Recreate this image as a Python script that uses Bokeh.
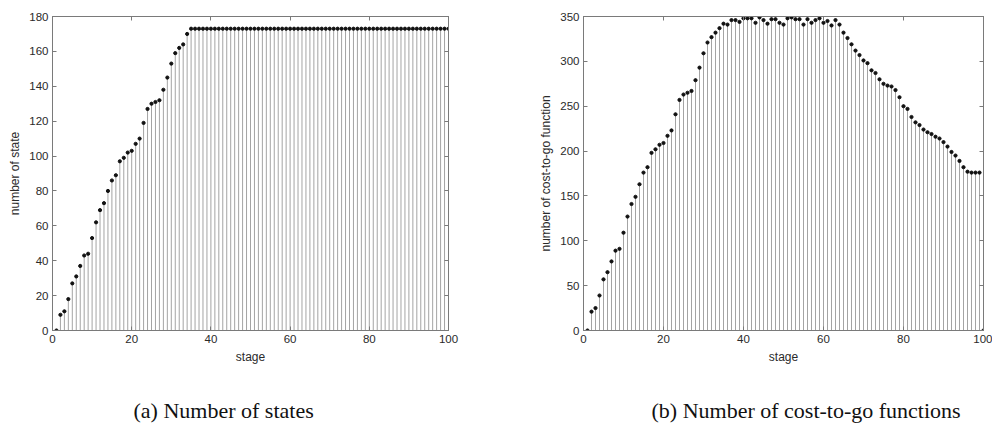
from bokeh.plotting import figure
from bokeh.models import LinearAxis, FixedTicker, Range1d, Title
from bokeh.layouts import row
from bokeh.embed import file_html
from bokeh.resources import INLINE

# stage index 1..100
stages = list(range(1, 101))

# number of states reached at each stage
states = [
    0, 9, 11, 18, 27, 31, 37, 43, 44, 53,
    62, 69, 73, 80, 86, 89, 97, 99, 102, 103,
    107, 110, 119, 127, 130, 131, 132, 138, 145, 153,
    159, 162, 164, 170, 173, 173, 173, 173, 173, 173,
    173, 173, 173, 173, 173, 173, 173, 173, 173, 173,
    173, 173, 173, 173, 173, 173, 173, 173, 173, 173,
    173, 173, 173, 173, 173, 173, 173, 173, 173, 173,
    173, 173, 173, 173, 173, 173, 173, 173, 173, 173,
    173, 173, 173, 173, 173, 173, 173, 173, 173, 173,
    173, 173, 173, 173, 173, 173, 173, 173, 173, 173,
]

# number of cost-to-go functions stored at each stage
cost_to_go = [
    0, 21, 25, 39, 57, 65, 77, 89, 91, 109,
    127, 141, 149, 163, 176, 182, 198, 202, 207, 209,
    217, 223, 241, 257, 263, 265, 267, 279, 293, 309,
    321, 327, 332, 337, 342, 341, 346, 346, 344, 348,
    348, 348, 343, 349, 346, 342, 347, 347, 343, 341,
    348, 349, 347, 347, 341, 347, 343, 346, 348, 343,
    345, 340, 346, 341, 332, 326, 319, 312, 307, 301,
    298, 290, 287, 280, 275, 273, 272, 268, 260, 250,
    247, 238, 232, 229, 224, 221, 219, 216, 214, 210,
    205, 199, 195, 189, 182, 177, 176, 176, 176, 0,
]

x_ticks = [0, 20, 40, 60, 80, 100]
states_ticks = [0, 20, 40, 60, 80, 100, 120, 140, 160, 180]
cost_ticks = [0, 50, 100, 150, 200, 250, 300, 350]

AXIS_COLOR = "#7a7a7a"
TEXT_COLOR = "#2a2a2a"
SANS = "Liberation Sans"


def style_axis(ax, ticks, show_labels):
    ax.ticker = FixedTicker(ticks=ticks)
    ax.axis_line_color = AXIS_COLOR
    ax.major_tick_line_color = AXIS_COLOR
    ax.major_tick_in = 4
    ax.major_tick_out = 0
    ax.minor_tick_line_color = None
    ax.major_label_text_font = SANS
    if show_labels:
        ax.major_label_text_color = TEXT_COLOR
        ax.major_label_text_font_size = "11.5px"
        ax.major_label_standoff = 4
        ax.axis_label_text_font = SANS
        ax.axis_label_text_font_size = "12px"
        ax.axis_label_text_font_style = "normal"
        ax.axis_label_text_color = TEXT_COLOR
        ax.axis_label_standoff = 4
    else:
        # tick marks only on the opposite sides of the box
        ax.major_label_text_color = None
        ax.major_label_text_font_size = "1px"
        ax.major_label_standoff = 0


def spacer_axis(gap):
    # an undrawn axis that only reserves vertical room above the caption
    ax = LinearAxis(ticker=FixedTicker(ticks=[50]))
    ax.axis_line_color = None
    ax.major_tick_line_color = None
    ax.minor_tick_line_color = None
    ax.major_tick_in = 0
    ax.major_tick_out = gap
    ax.major_label_text_color = None
    ax.major_label_text_font_size = "1px"
    ax.major_label_standoff = 0
    return ax


def stem_panel(values, ymax, yticks, ylabel, caption, width,
               border_left, border_right, cap_offset):
    p = figure(
        width=width, height=423,
        x_range=Range1d(0, 100), y_range=Range1d(0, ymax),
        output_backend="svg", toolbar_location=None,
        min_border_left=border_left, min_border_right=border_right,
        min_border_top=16, min_border_bottom=93,
    )
    p.xgrid.visible = False
    p.ygrid.visible = False
    p.outline_line_color = AXIS_COLOR
    p.background_fill_color = "white"
    p.border_fill_color = "white"

    # stems from the baseline up to each value, then the marker on top
    p.segment(x0=stages, y0=0, x1=stages, y1=values,
              line_color="#a4a4a4", line_width=1)
    p.scatter(stages, values, size=3.2, marker="circle",
              fill_color="#111111", line_color="#111111")

    style_axis(p.xaxis[0], x_ticks, True)
    style_axis(p.yaxis[0], yticks, True)
    p.xaxis[0].axis_label = "stage"
    p.yaxis[0].axis_label = ylabel

    top = LinearAxis()
    style_axis(top, x_ticks, False)
    p.add_layout(top, "above")
    right = LinearAxis()
    style_axis(right, yticks, False)
    p.add_layout(right, "right")

    p.add_layout(spacer_axis(28), "below")
    cap = Title(text=caption, align="left", offset=cap_offset,
                text_font="Liberation Serif", text_font_size="22px",
                text_font_style="normal", text_color="#111111",
                standoff=2)
    p.add_layout(cap, "below")
    return p


left = stem_panel(states, 180, states_ticks, "number of state",
                  "(a)  Number of states", 496, 52, 48, 81)
right = stem_panel(cost_to_go, 350, cost_ticks, "number of cost-to-go function",
                   "(b)  Number of cost-to-go functions", 496, 87, 9, 68)

layout = row(left, right, spacing=0)
open("out.html", "w").write(file_html(layout, INLINE))
